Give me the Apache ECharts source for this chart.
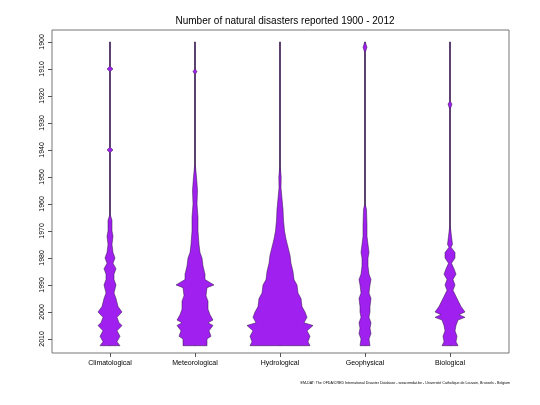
<!DOCTYPE html>
<html>
<head>
<meta charset="utf-8">
<script src="https://cdn.jsdelivr.net/npm/echarts@6/dist/echarts.min.js"></script>
<style>html,body{margin:0;padding:0;background:#fff}#main{width:540px;height:405px}</style>
</head>
<body>
<div id="main"></div>
<script>
// categories along the x axis
const categories = ['Climatological', 'Meteorological', 'Hydrological', 'Geophysical', 'Biological'];
const yearTicks = [1900, 1910, 1920, 1930, 1940, 1950, 1960, 1970, 1980, 1990, 2000, 2010];

// bean outlines: [year, half width]
const climatological = [[1900,0.2],[1909,0.2],[1910,3],[1911,0.2],[1939,0.2],[1940,3],[1941,0.2],[1964,0.2],[1966,2],[1970,2],[1972,3],[1975,2],[1978,3],[1980,5],[1982,3],[1984,6],[1986,4],[1988,4],[1990,6],[1993,4],[1995,6],[1998,8],[2000,12],[2002,7],[2004,9],[2005,12],[2007,7],[2009,10],[2011,7],[2012.5,10]];
const meteorological = [[1900,0.2],[1910,0.2],[1911,2],[1912,0.2],[1945,0.2],[1950,1.5],[1955,2.5],[1960,2],[1965,3],[1970,3],[1975,4],[1978,5],[1980,7],[1983,8],[1986,10],[1988,10],[1990,19],[1991,12],[1994,11],[1996,13],[1999,13],[2001,15],[2003,18],[2004,13],[2005,18],[2007,14],[2009,16],[2010,12],[2012.5,12]];
const hydrological = [[1900,0.2],[1946,0.2],[1950,1.2],[1954,1],[1958,2],[1962,3],[1966,3.5],[1970,4.5],[1973,6],[1976,8],[1979,10],[1982,11],[1985,13],[1988,14],[1990,17],[1993,18],[1995,21],[1998,22],[2000,25],[2002,27],[2004,24],[2005,33],[2007,27],[2009,30],[2011,28],[2012.5,30]];
const geophysical = [[1900,0.2],[1902,2],[1904,0.2],[1960,0.2],[1962,1.5],[1968,2],[1972,2],[1975,3],[1978,4],[1980,3],[1983,3],[1986,4],[1988,6],[1990,5],[1993,4],[1995,6],[1998,5],[2000,5],[2002,4],[2004,6],[2006,5],[2008,6],[2010,4],[2012.5,5]];
const biological = [[1900,0.2],[1922,0.2],[1923,2],[1925,0.2],[1968,0.2],[1972,1.5],[1975,2.5],[1976,1],[1978,5],[1980,5],[1982,1.5],[1984,4],[1986,6],[1988,3],[1990,5],[1992,3],[1995,7],[1998,11],[2000,15],[2001,9],[2002,15],[2003,8],[2005,6],[2007,5],[2009,7],[2011,6],[2012.5,8]];

const profiles = [climatological, meteorological, hydrological, geophysical, biological];
const pxPerUnit = 85;

const chart = echarts.init(document.getElementById('main'), null, {renderer: 'canvas'});

const beanData = profiles.map((p, i) => [i + 1, i]);

chart.setOption({
  animation: false,
  title: {
    text: 'Number of natural disasters reported 1900 - 2012',
    left: 280, top: 11, textAlign: 'center',
    textStyle: {fontFamily: 'Liberation Sans', fontSize: 10, fontWeight: 'normal', color: '#000'}
  },
  graphic: [{
    type: 'text', right: 30, top: 381,
    style: {text: 'EM-DAT: The OFDA/CRED International Disaster Database - www.emdat.be - Université Catholique de Louvain, Brussels - Belgium',
      font: '3.6px Liberation Sans', fill: '#000'}
  }],
  grid: {left: 52, right: 31, top: 30, bottom: 52, show: true, borderColor: '#777', borderWidth: 1},
  xAxis: {
    type: 'value', min: 1 - 58 / 85, max: 5 + 59 / 85,
    splitLine: {show: false},
    axisLine: {show: false},
    axisTick: {show: true, customValues: [1, 2, 3, 4, 5], length: 4, lineStyle: {color: '#555'}},
    axisLabel: {customValues: [1, 2, 3, 4, 5], formatter: v => categories[Math.round(v) - 1],
      fontFamily: 'Liberation Sans', fontSize: 7, color: '#000', margin: 7}
  },
  yAxis: {
    type: 'value', inverse: true, min: 1895.6, max: 2015.2,
    splitLine: {show: false},
    axisLine: {show: false},
    axisTick: {show: true, customValues: yearTicks, length: 4, lineStyle: {color: '#555'}},
    axisLabel: {customValues: yearTicks, formatter: v => String(Math.round(v)), rotate: 90,
      fontFamily: 'Liberation Sans', fontSize: 7, color: '#000', margin: 6}
  },
  series: [{
    type: 'custom',
    data: beanData,
    renderItem: (params, api) => {
      const cx = api.value(0);
      const prof = profiles[api.value(1)];
      const left = prof.map(([y, w]) => api.coord([cx - w / pxPerUnit, y]));
      const right = prof.slice().reverse().map(([y, w]) => api.coord([cx + w / pxPerUnit, y]));
      const top = api.coord([cx, 1900]);
      const bot = api.coord([cx, 2012.5]);
      return {
        type: 'group',
        children: [
          {type: 'line', shape: {x1: top[0], y1: top[1], x2: bot[0], y2: bot[1]}, style: {stroke: '#000', lineWidth: 1}},
          {type: 'polygon', shape: {points: left.concat(right)}, style: {fill: '#A020F0', stroke: '#2a1040', lineWidth: 0.5}}
        ]
      };
    }
  }]
});
</script>
</body>
</html>
